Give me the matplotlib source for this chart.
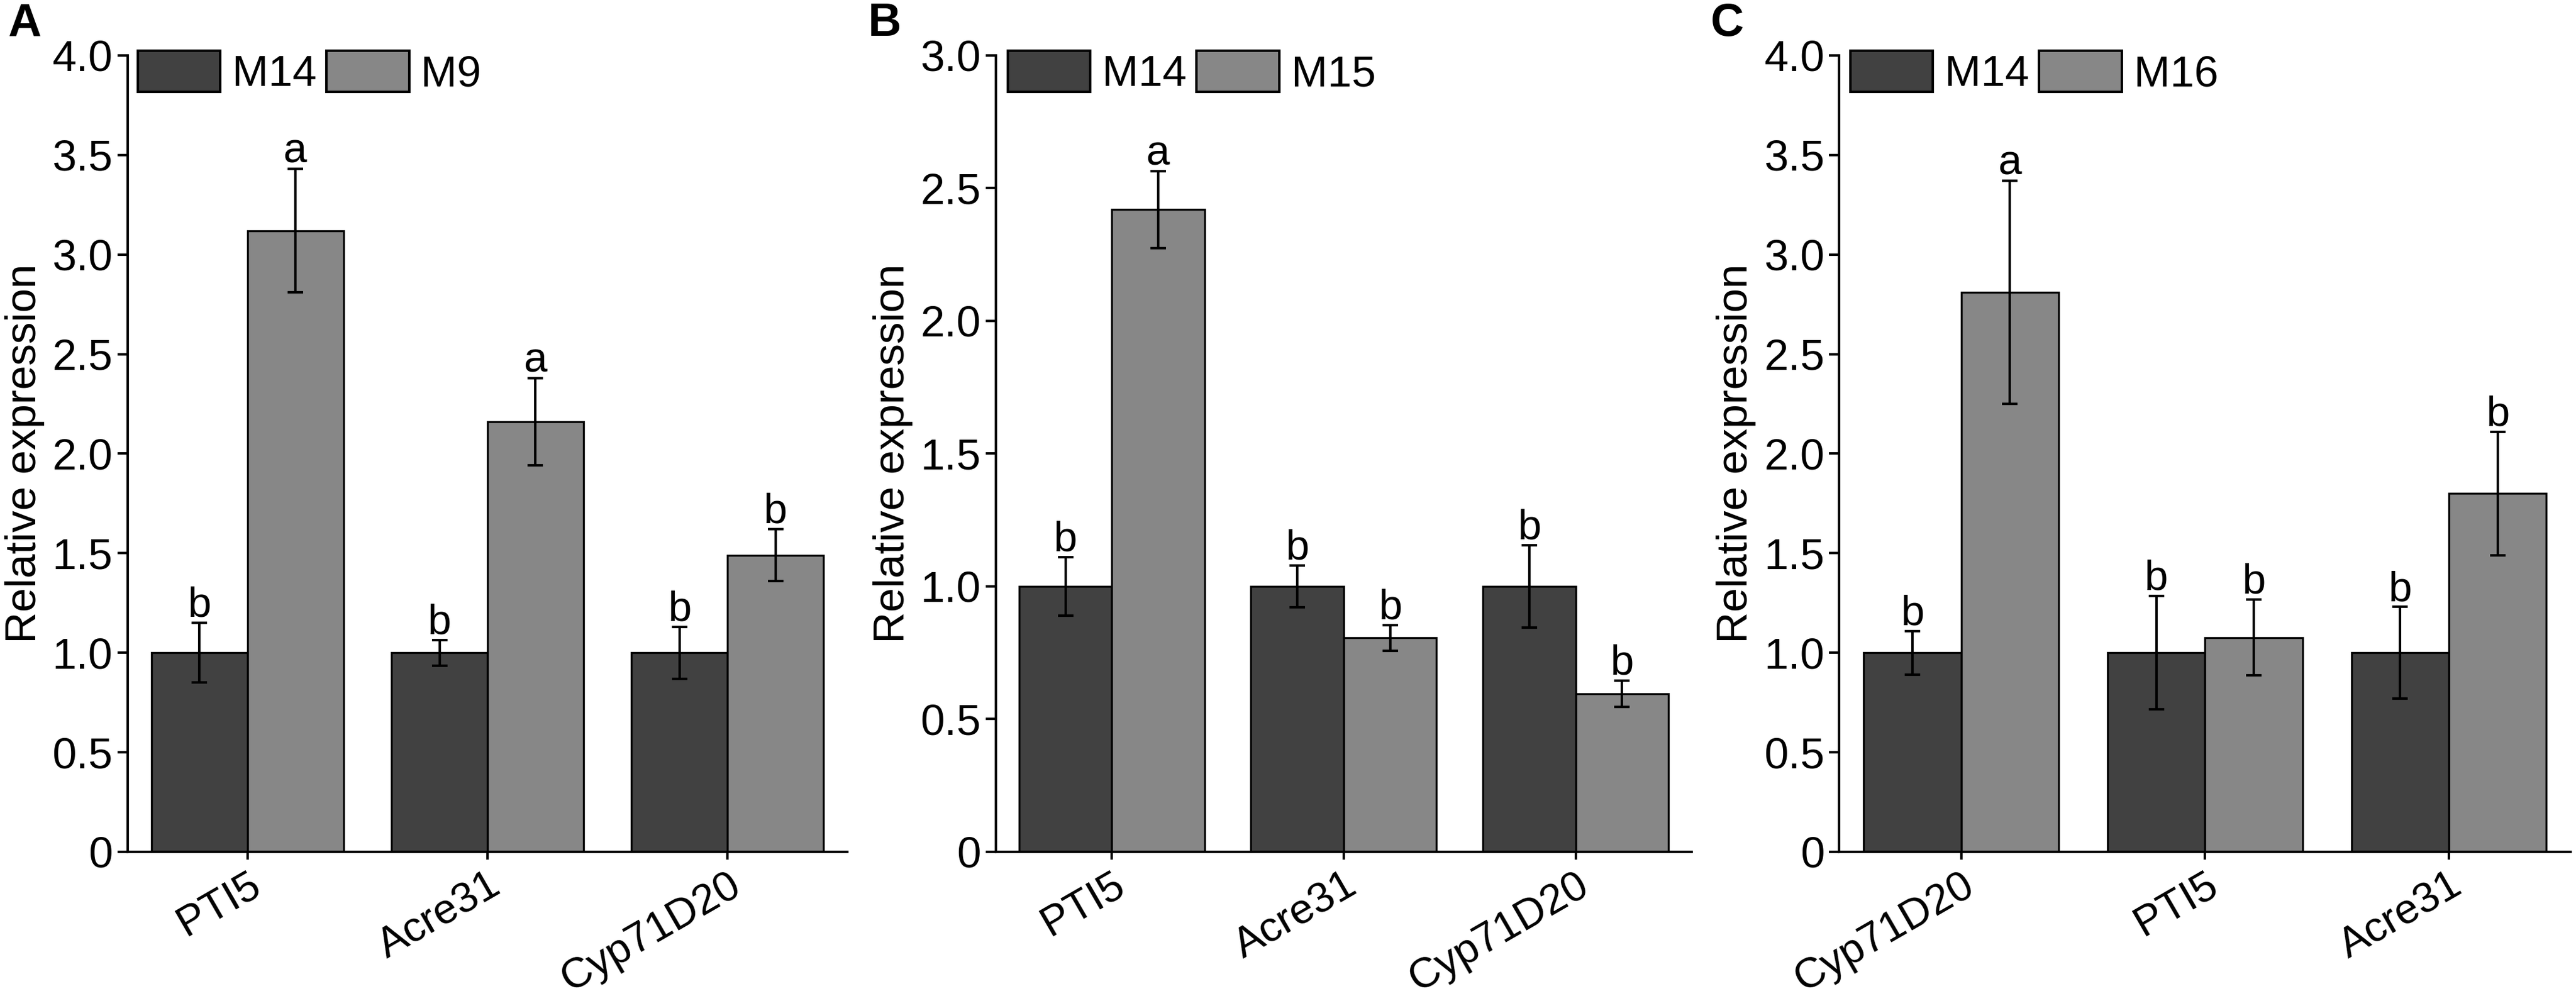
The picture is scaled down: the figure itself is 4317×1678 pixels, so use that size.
import matplotlib.pyplot as plt
import numpy as np
from matplotlib.ticker import FuncFormatter, MultipleLocator

plt.rcParams['font.family'] = ['Liberation Sans', 'DejaVu Sans']

# Panel A
genes_a = ['PTI5', 'Acre31', 'Cyp71D20']
m14_a = [1.0, 1.0, 1.0]
m14_a_err = [0.15, 0.065, 0.13]
m9 = [3.12, 2.16, 1.49]
m9_err = [0.31, 0.22, 0.13]
let_m14_a = ['b', 'b', 'b']
let_m9 = ['a', 'a', 'b']

# Panel B
genes_b = ['PTI5', 'Acre31', 'Cyp71D20']
m14_b = [1.0, 1.0, 1.0]
m14_b_err = [0.11, 0.078, 0.155]
m15 = [2.42, 0.806, 0.595]
m15_err = [0.145, 0.048, 0.05]
let_m14_b = ['b', 'b', 'b']
let_m15 = ['a', 'b', 'b']

# Panel C
genes_c = ['Cyp71D20', 'PTI5', 'Acre31']
m14_c = [1.0, 1.0, 1.0]
m14_c_err = [0.11, 0.285, 0.23]
m16 = [2.81, 1.077, 1.80]
m16_err = [0.56, 0.19, 0.31]
let_m14_c = ['b', 'b', 'b']
let_m16 = ['a', 'b', 'b']

DARK = '#414141'
LIGHT = '#878787'
FS = 17.5


def panel(ax, genes, ref, ref_err, other, other_err, ref_let, other_let,
          other_name, ymax, leg_x):
    x = np.arange(len(genes))
    w = 0.4
    ekw = dict(elinewidth=1.0, capthick=1.0, ecolor='black')
    b1 = ax.bar(x - w / 2, ref, w, color=DARK, edgecolor='black',
                linewidth=0.8, yerr=ref_err, capsize=3.2, error_kw=ekw,
                label='M14')
    b2 = ax.bar(x + w / 2, other, w, color=LIGHT, edgecolor='black',
                linewidth=0.8, yerr=other_err, capsize=3.2, error_kw=ekw,
                label=other_name)

    # significance letters above the error bars
    for xi, v, e, t in zip(x - w / 2, ref, ref_err, ref_let):
        ax.annotate(t, (xi, v + e), xytext=(0, 2.5), textcoords='offset points',
                    ha='center', va='baseline', fontsize=17)
    for xi, v, e, t in zip(x + w / 2, other, other_err, other_let):
        ax.annotate(t, (xi, v + e), xytext=(0, 2.5), textcoords='offset points',
                    ha='center', va='baseline', fontsize=17)

    ax.set_xlim(-0.5, len(genes) - 0.5)
    ax.set_ylim(0, ymax)
    ax.yaxis.set_major_locator(MultipleLocator(0.5))
    ax.yaxis.set_major_formatter(
        FuncFormatter(lambda v, p: '0' if v == 0 else f'{v:.1f}'))
    ax.set_xticks(x)
    ax.set_xticklabels(genes, rotation=30, ha='right', va='top',
                       rotation_mode='anchor')
    ax.tick_params(axis='y', labelsize=FS, length=4, width=1.0, pad=2)
    ax.tick_params(axis='x', labelsize=17, length=3, width=1.0, pad=2.5)
    for s in ['top', 'right']:
        ax.spines[s].set_visible(False)
    for s in ['left', 'bottom']:
        ax.spines[s].set_linewidth(1.0)
    ax.set_ylabel('Relative expression', fontsize=17.5, labelpad=3)

    leg = ax.legend(handles=[b1, b2], loc='upper left',
                    bbox_to_anchor=(leg_x, 1.006), ncol=2, frameon=False,
                    fontsize=FS, handlelength=1.9, handleheight=1.07,
                    handletextpad=0.27, columnspacing=0.23, borderpad=0,
                    borderaxespad=0)
    for h in leg.legend_handles:
        h.set_linewidth(1.0)


fig = plt.figure(figsize=(4317 / 300, 1678 / 300), dpi=300)
bottom, top = 0.149, 0.9446
ax_a = fig.add_axes([0.0495, bottom, 0.329 - 0.0495, top - bottom])
ax_b = fig.add_axes([0.3866, bottom, 0.6567 - 0.3866, top - bottom])
ax_c = fig.add_axes([0.714, bottom, 0.998 - 0.714, top - bottom])

panel(ax_a, genes_a, m14_a, m14_a_err, m9, m9_err, let_m14_a, let_m9,
      'M9', 4.0, 0.014)
panel(ax_b, genes_b, m14_b, m14_b_err, m15, m15_err, let_m14_b, let_m15,
      'M15', 3.0, 0.017)
panel(ax_c, genes_c, m14_c, m14_c_err, m16, m16_err, let_m14_c, let_m16,
      'M16', 4.0, 0.015)

for lab, xp in zip(['A', 'B', 'C'], [0.003, 0.337, 0.664]):
    fig.text(xp, 0.998, lab, fontsize=18.5, fontweight='bold', va='top',
             ha='left')

fig.savefig('out.png', dpi=300)
